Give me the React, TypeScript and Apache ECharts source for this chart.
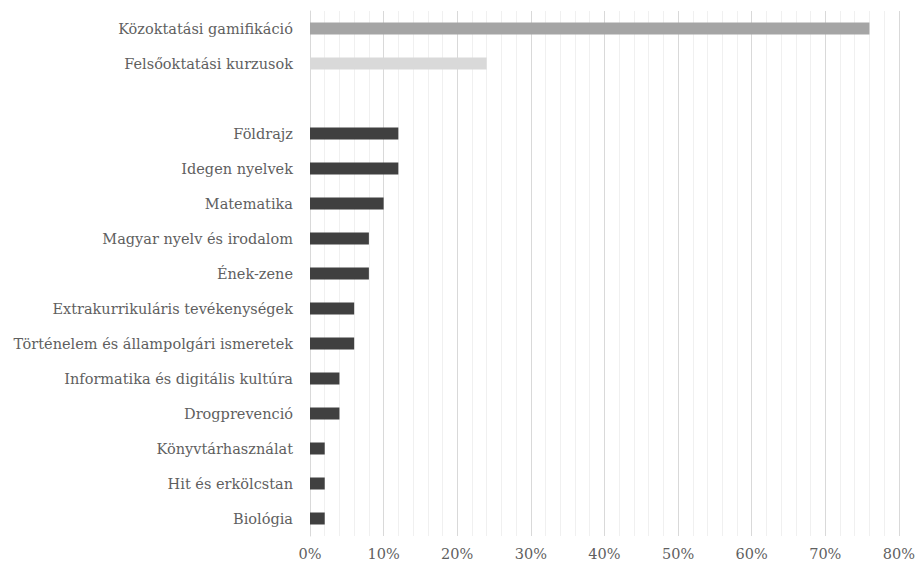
import React, { useEffect, useRef } from "react";
import * as echarts from "echarts";

const categories = [
  "Közoktatási gamifikáció",
  "Felsőoktatási kurzusok",
  "",
  "Földrajz",
  "Idegen nyelvek",
  "Matematika",
  "Magyar nyelv és irodalom",
  "Ének-zene",
  "Extrakurrikuláris tevékenységek",
  "Történelem és állampolgári ismeretek",
  "Informatika és digitális kultúra",
  "Drogprevenció",
  "Könyvtárhasználat",
  "Hit és erkölcstan",
  "Biológia",
];

const values: (number | null)[] = [76, 24, null, 12, 12, 10, 8, 8, 6, 6, 4, 4, 2, 2, 2];

const barColors = [
  "#a5a5a5",
  "#d9d9d9",
  "#404040",
  "#404040",
  "#404040",
  "#404040",
  "#404040",
  "#404040",
  "#404040",
  "#404040",
  "#404040",
  "#404040",
  "#404040",
  "#404040",
  "#404040",
];

const xTicks = [0, 10, 20, 30, 40, 50, 60, 70, 80];

export default function App() {
  const ref = useRef<HTMLDivElement>(null);
  useEffect(() => {
    if (!ref.current) return;
    document.body.style.margin = "0";
    document.body.style.overflow = "hidden";
    const chart = echarts.init(ref.current, undefined, { renderer: "svg" });
    const font = "DejaVu Serif";
    chart.setOption({
      animation: false,
      textStyle: { fontFamily: font },
      grid: { left: 310, right: 16, top: 11, bottom: 30, containLabel: false },
      xAxis: {
        type: "value",
        min: xTicks[0],
        max: xTicks[xTicks.length - 1],
        interval: 10,
        axisLine: { show: false },
        axisTick: { show: false },
        axisLabel: {
          formatter: "{value}%",
          color: "#5f5f5f",
          fontFamily: font,
          fontSize: 14.5,
          margin: 10,
        },
        splitLine: { show: true, lineStyle: { color: "#d9d9d9", width: 1 } },
        minorTick: { show: false, splitNumber: 5 },
        minorSplitLine: { show: true, lineStyle: { color: "#f0f0f0", width: 1 } },
      },
      yAxis: {
        type: "category",
        data: categories,
        inverse: true,
        axisLine: { show: true, lineStyle: { color: "#d9d9d9" } },
        axisTick: { show: false },
        axisLabel: {
          color: "#5f5f5f",
          fontFamily: font,
          fontSize: 14.5,
          margin: 17,
        },
        splitLine: { show: false },
      },
      series: [
        {
          type: "bar",
          barWidth: 12,
          data: values.map((v, i) => ({
            value: v,
            itemStyle: { color: barColors[i] },
          })),
        },
      ],
    });
    return () => chart.dispose();
  }, []);
  return (
    <div
      ref={ref}
      style={{ position: "absolute", left: 0, top: 0, width: 918, height: 566 }}
    />
  );
}
